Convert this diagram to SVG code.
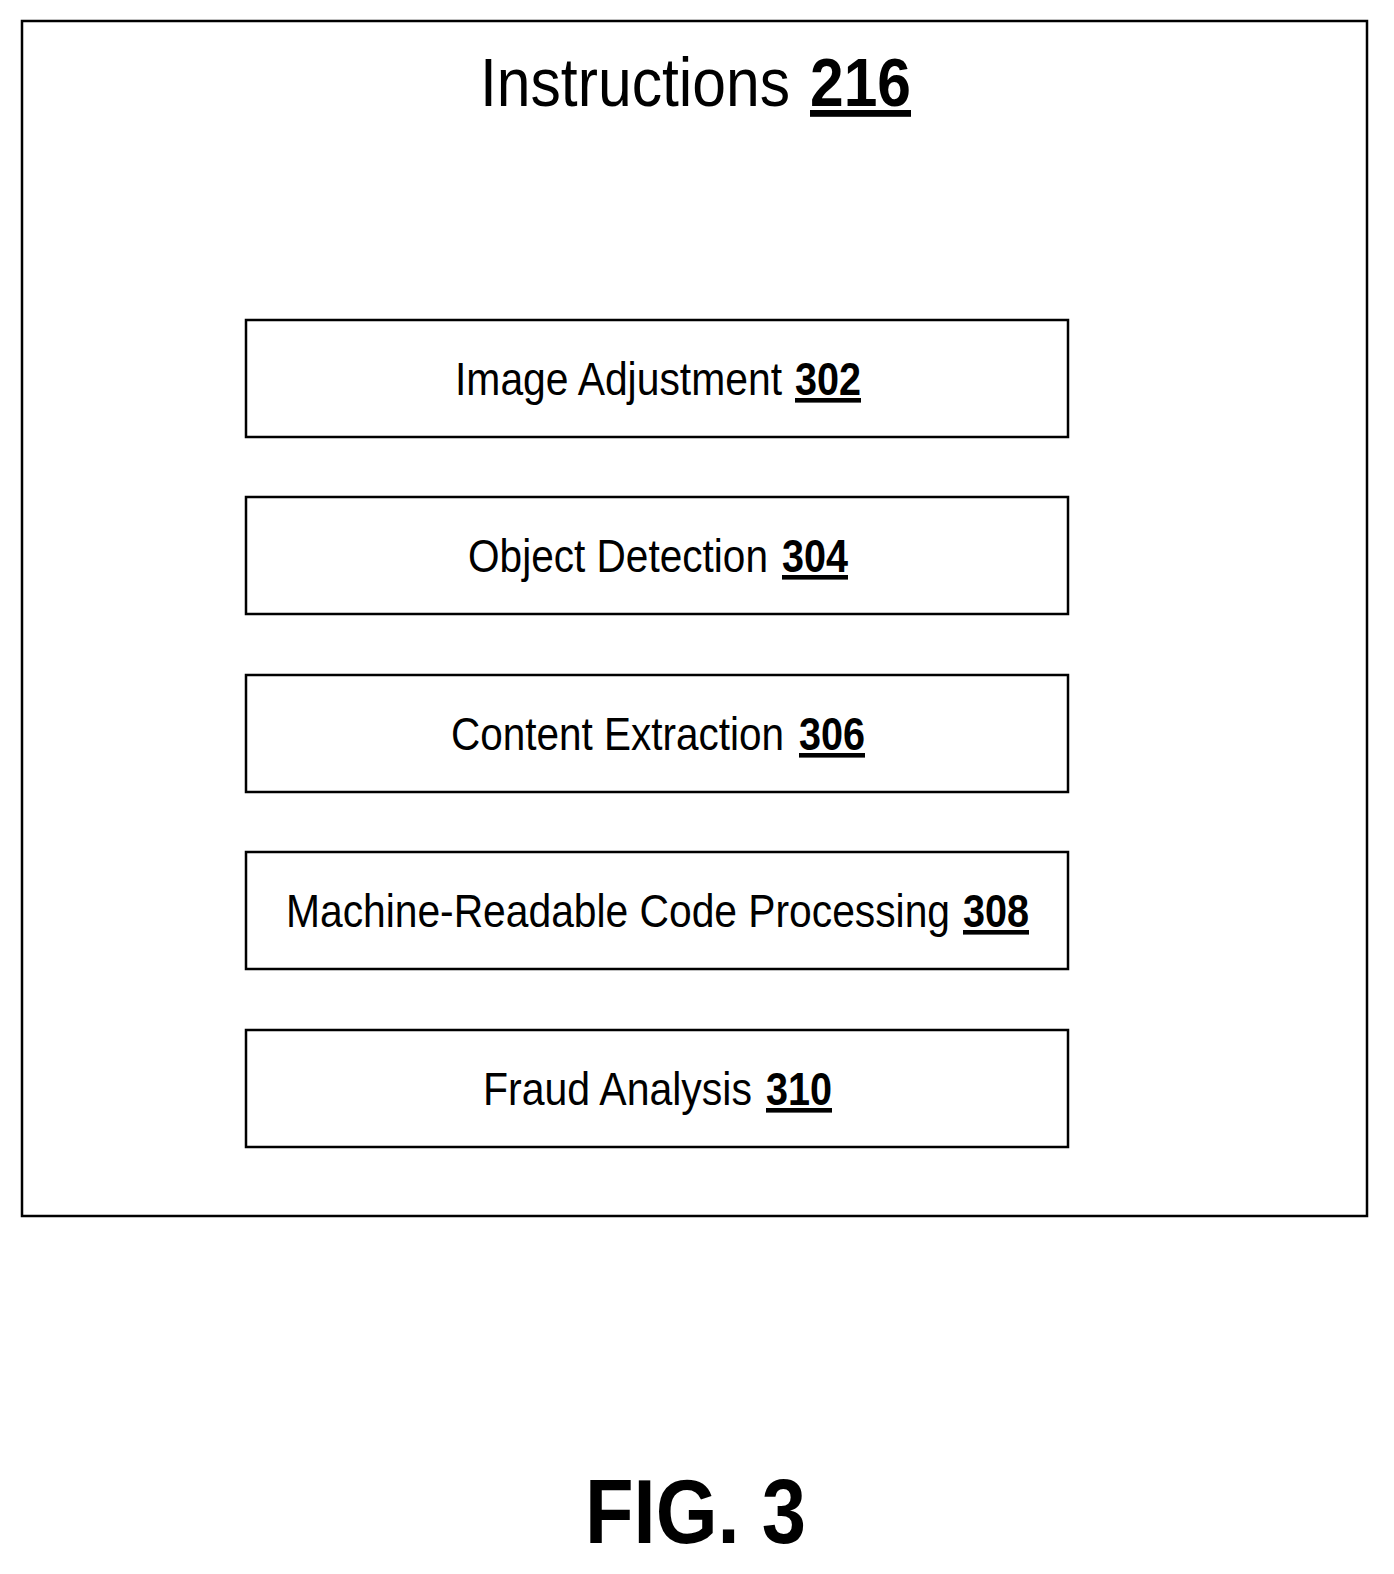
<svg xmlns="http://www.w3.org/2000/svg" width="1394" height="1574" viewBox="0 0 1394 1574">
<style>
text{font-family:"Liberation Sans",Arial,sans-serif;fill:#000}
.b{font-weight:bold;text-decoration:underline;text-anchor:end}
.box{fill:#fff;stroke:#000;stroke-width:2.5}
.lbl{font-size:46px}
</style>
<rect x="0" y="0" width="1394" height="1574" fill="#fff"/>
<g id="instructions">
<rect x="22" y="21" width="1345" height="1195" class="box"/>
<text x="480" y="106" font-size="68" textLength="310" lengthAdjust="spacingAndGlyphs">Instructions</text>
<text x="911" y="106" font-size="68" class="b" textLength="101" lengthAdjust="spacingAndGlyphs">216</text>
</g>
<g id="n302"><rect x="246" y="320" width="822" height="117" class="box"/>
<text class="lbl" x="455" y="395" textLength="327" lengthAdjust="spacingAndGlyphs">Image Adjustment</text>
<text class="lbl b" x="861" y="395" textLength="66" lengthAdjust="spacingAndGlyphs">302</text></g>
<g id="n304"><rect x="246" y="497" width="822" height="117" class="box"/>
<text class="lbl" x="468" y="572" textLength="300" lengthAdjust="spacingAndGlyphs">Object Detection</text>
<text class="lbl b" x="848" y="572" textLength="66" lengthAdjust="spacingAndGlyphs">304</text></g>
<g id="n306"><rect x="246" y="675" width="822" height="117" class="box"/>
<text class="lbl" x="451" y="750" textLength="333" lengthAdjust="spacingAndGlyphs">Content Extraction</text>
<text class="lbl b" x="865" y="750" textLength="66" lengthAdjust="spacingAndGlyphs">306</text></g>
<g id="n308"><rect x="246" y="852" width="822" height="117" class="box"/>
<text class="lbl" x="286" y="927" textLength="664" lengthAdjust="spacingAndGlyphs">Machine-Readable Code Processing</text>
<text class="lbl b" x="1029" y="927" textLength="66" lengthAdjust="spacingAndGlyphs">308</text></g>
<g id="n310"><rect x="246" y="1030" width="822" height="117" class="box"/>
<text class="lbl" x="483" y="1105" textLength="269" lengthAdjust="spacingAndGlyphs">Fraud Analysis</text>
<text class="lbl b" x="832" y="1105" textLength="66" lengthAdjust="spacingAndGlyphs">310</text></g>
<g id="connectors"/>
<text x="585" y="1543" font-size="90" font-weight="bold" textLength="221" lengthAdjust="spacingAndGlyphs">FIG. 3</text>
</svg>
